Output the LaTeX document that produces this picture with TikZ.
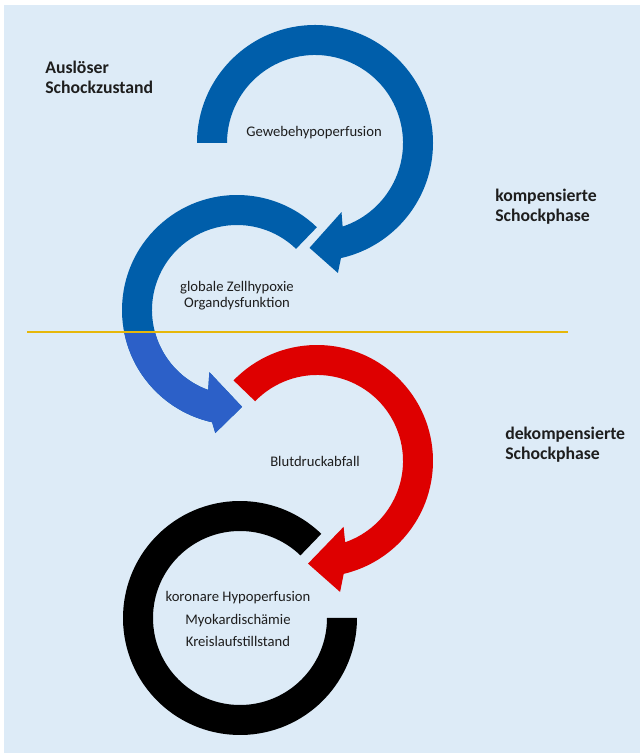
\documentclass[tikz,border=0pt]{standalone}
\usepackage{fontspec}
\setmainfont{Carlito}
\definecolor{hintergrund}{RGB}{221,235,247}
\definecolor{blaudunkel}{RGB}{0,94,170}
\definecolor{blauhell}{RGB}{44,96,200}
\definecolor{rot}{RGB}{222,0,0}
\definecolor{gelb}{RGB}{230,183,10}
\definecolor{schrift}{RGB}{30,30,30}
\tikzset{
  phase/.style={font=\fontsize{13.3}{14.8}\selectfont\bfseries, text=schrift, align=left, anchor=west, inner sep=0pt},
  kreistext/.style={font=\fontsize{11}{12}\selectfont, text=schrift, align=center, inner sep=0pt},
}

\begin{document}
\begin{tikzpicture}[x=0.75pt, y=0.75pt]
  \useasboundingbox (0,0) rectangle (640,753);
  \fill [hintergrund] (4,0) rectangle (640,748);
  % Mittelpunkte der Kreispfeile
  \coordinate (m1) at (315,610);
  \coordinate (m2) at (237,443);
  \coordinate (m3) at (317,292);
  \coordinate (m4) at (240,135);

  % Gewebehypoperfusion
  \fill [blaudunkel, shift={(m1)}] (180:118) arc [start angle=180, end angle=-77.3, radius=118]
    -- (-80:132) -- (-93:105) -- (-69:74) -- (-71.7:88)
    arc [start angle=-71.7, end angle=180, radius=88] -- cycle;

  % Zellhypoxie
  \fill [blaudunkel, shift={(m2)}] (46:115) arc [start angle=46, end angle=257.5, radius=115]
    -- (260:125) -- (273:97) -- (246:68) -- (250.2:85)
    arc [start angle=250.2, end angle=46, radius=85] -- cycle;
  \begin{scope}
    \clip (0,0) rectangle (640,421);
    \fill [blauhell, shift={(m2)}] (46:115) arc [start angle=46, end angle=257.5, radius=115]
      -- (260:125) -- (273:97) -- (246:68) -- (250.2:85)
      arc [start angle=250.2, end angle=46, radius=85] -- cycle;
  \end{scope}

  % Blutdruckabfall
  \fill [rot, shift={(m3)}] (136:116) arc [start angle=136, end angle=-76.7, radius=116]
    -- (-80:133) -- (-95:103) -- (-68:71) -- (-70.9:86)
    arc [start angle=-70.9, end angle=136, radius=86] -- cycle;

  % Kreislaufstillstand
  \fill [black, shift={(m4)}] (46:117) arc [start angle=46, end angle=360, radius=117]
    -- (0:87) arc [start angle=360, end angle=46, radius=87] -- cycle;

  % Trennlinie
  \coordinate (trennL) at (27,421);
  \coordinate (trennR) at (568,421);
  \draw [gelb, line width=1.5pt] (trennL) -- (trennR);

  \node [kreistext] (gewebe) at (314,620) {Gewebehypoperfusion};
  \node [kreistext] (zellhypoxie) at (237,457) {globale Zellhypoxie\\Organdysfunktion};
  \node [kreistext] (blutdruck) at (315,292) {Blutdruckabfall};
  \node [kreistext, font=\fontsize{11}{17}\selectfont] (koronar) at (238,134)
    {koronare Hypoperfusion\\Myokardischämie\\Kreislaufstillstand};

  \node [phase] (ausloeser) at (45,676) {Auslöser\\Schockzustand};
  \node [phase] (kompensiert) at (495,546) {kompensierte\\Schockphase};
  \node [phase] (dekompensiert) at (505,308) {dekompensierte\\Schockphase};
\end{tikzpicture}
\end{document}
